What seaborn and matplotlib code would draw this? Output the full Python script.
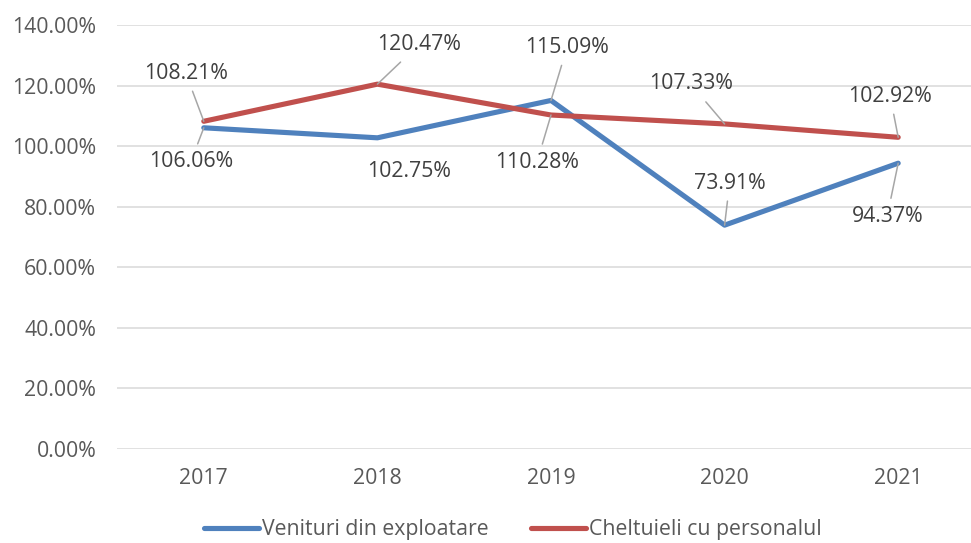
import pandas as pd
import numpy as np
import matplotlib.pyplot as plt
import seaborn as sns
from matplotlib.lines import Line2D
from matplotlib.ticker import FuncFormatter

# ---- data ----
years = ['2017', '2018', '2019', '2020', '2021']
venituri = [106.06, 102.75, 115.09, 73.91, 94.37]
cheltuieli = [108.21, 120.47, 110.28, 107.33, 102.92]
series_names = ['Venituri din exploatare', 'Cheltuieli cu personalul']
y_ticks = [0, 20, 40, 60, 80, 100, 120, 140]

df = pd.DataFrame({
    'an': years * 2,
    'valoare': venituri + cheltuieli,
    'serie': [series_names[0]] * len(years) + [series_names[1]] * len(years),
})

sns.set_style('white')
plt.rcParams['font.family'] = ['Open Sans', 'DejaVu Sans']

blue = '#4F81BD'
red = '#C0504D'
palette = {series_names[0]: blue, series_names[1]: red}
fs = 15.3

fig = plt.figure(figsize=(9.71, 5.43), dpi=100)
ax = fig.add_axes([117 / 971, 94 / 543, 868 / 971, 424 / 543])

sns.lineplot(data=df, x='an', y='valoare', hue='serie', palette=palette,
             linewidth=3.7, ax=ax, legend=False, sort=False,
             solid_capstyle='round', solid_joinstyle='round', zorder=3)

ax.set_xlim(-0.5, 4.5)
ax.set_ylim(0, 140)
ax.set_yticks(y_ticks)
ax.yaxis.set_major_formatter(FuncFormatter(lambda v, p: f'{v:.2f}%'))
ax.grid(axis='y', color='#D9D9D9', lw=1.1)
ax.grid(axis='x', visible=False)
for s in ax.spines.values():
    s.set_visible(False)
ax.tick_params(axis='both', length=0, labelsize=fs, colors='#595959')
ax.tick_params(axis='y', pad=15)
ax.tick_params(axis='x', pad=14)
ax.set_xlabel('')
ax.set_ylabel('')

# data labels with leader lines (offsets in pixels)
offs_ven = [(-13, -34, True), (32, -34, False), (16, 53, True), (5, 42, True), (-11, -53, True)]
offs_che = [(-18, 48, True), (42, 40, True), (-14, -47, True), (-34, 40, True), (-8, 41, True)]

for vals, offs in [(venituri, offs_ven), (cheltuieli, offs_che)]:
    for i, (v, (dx, dy, lead)) in enumerate(zip(vals, offs)):
        ap = dict(arrowstyle='-', color='#A6A6A6', lw=1.1, shrinkA=0, shrinkB=0) if lead else None
        ax.annotate(f'{v:.2f}%', xy=(i, v), xytext=(dx, dy), textcoords='offset pixels',
                    ha='center', va='center', fontsize=fs, color='#404040',
                    bbox=dict(boxstyle='square,pad=0.35', fc='none', ec='none'),
                    arrowprops=ap, zorder=4)

handles = [Line2D([0], [0], color=blue, lw=3.7, solid_capstyle='round'),
           Line2D([0], [0], color=red, lw=3.7, solid_capstyle='round')]
fig.legend(handles, series_names, loc='center', bbox_to_anchor=(0.528, 0.024),
           ncol=2, frameon=False, fontsize=fs, handlelength=2.6, handletextpad=0.12,
           columnspacing=2.0, labelcolor='#595959')

fig.savefig('out.png', dpi=100)
